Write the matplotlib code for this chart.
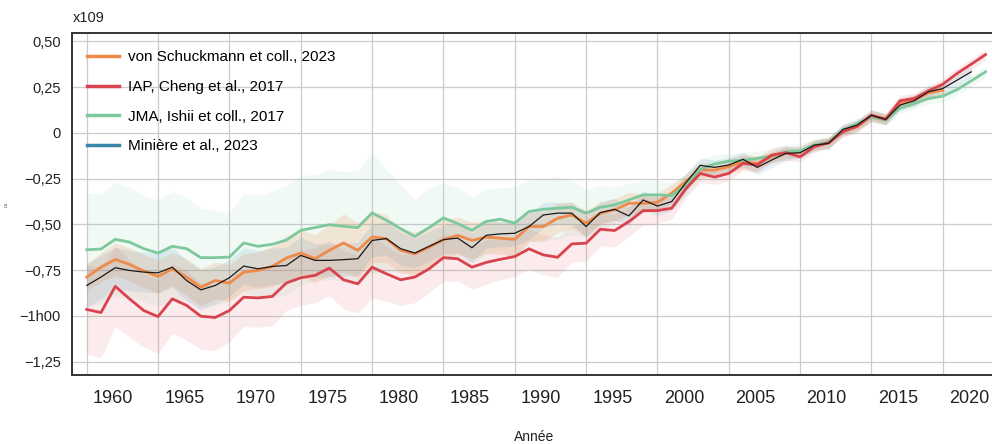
import numpy as np
import matplotlib
matplotlib.use('Agg')
import matplotlib.pyplot as plt
from matplotlib.lines import Line2D
from matplotlib.transforms import ScaledTranslation

plt.rcParams['font.family'] = ['Liberation Sans', 'DejaVu Sans']

# ocean heat content anomaly, x10^9
jma_years = list(range(1960, 2024))
jma = [-0.639, -0.635, -0.582, -0.597, -0.633, -0.657, -0.620, -0.633, -0.682, -0.682,
       -0.679, -0.602, -0.620, -0.609, -0.586, -0.533, -0.518, -0.502, -0.511, -0.518,
       -0.438, -0.478, -0.524, -0.566, -0.518, -0.465, -0.496, -0.533, -0.484, -0.472,
       -0.494, -0.430, -0.418, -0.412, -0.407, -0.439, -0.407, -0.394, -0.367, -0.339,
       -0.339, -0.343, -0.285, -0.200, -0.170, -0.155, -0.150, -0.140, -0.127, -0.104,
       -0.098, -0.067, -0.049, 0.015, 0.051, 0.085, 0.070, 0.135, 0.160, 0.187,
       0.200, 0.236, 0.284, 0.333]
jma_err = [0.31, 0.30, 0.31, 0.30, 0.29, 0.29, 0.30, 0.28, 0.27, 0.26,
           0.24, 0.27, 0.28, 0.29, 0.30, 0.30, 0.29, 0.30, 0.30, 0.31,
           0.33, 0.28, 0.24, 0.20, 0.22, 0.19, 0.20, 0.18, 0.18, 0.17,
           0.20, 0.17, 0.17, 0.17, 0.15, 0.13, 0.12, 0.10, 0.09, 0.08,
           0.08, 0.07, 0.06, 0.05, 0.05, 0.04, 0.04, 0.04, 0.04, 0.04,
           0.04, 0.03, 0.03, 0.03, 0.03, 0.03, 0.03, 0.03, 0.03, 0.03,
           0.03, 0.03, 0.03, 0.03]

iap_years = list(range(1960, 2024))
iap = [-0.965, -0.982, -0.839, -0.907, -0.971, -1.004, -0.907, -0.943, -1.002, -1.009,
       -0.971, -0.898, -0.902, -0.894, -0.820, -0.792, -0.779, -0.739, -0.803, -0.825,
       -0.734, -0.770, -0.803, -0.788, -0.743, -0.682, -0.688, -0.734, -0.708, -0.691,
       -0.676, -0.634, -0.667, -0.680, -0.607, -0.603, -0.527, -0.534, -0.485, -0.425,
       -0.425, -0.412, -0.305, -0.222, -0.242, -0.222, -0.167, -0.176, -0.122, -0.109,
       -0.131, -0.076, -0.055, 0.005, 0.036, 0.096, 0.073, 0.175, 0.187, 0.229,
       0.265, 0.324, 0.375, 0.427]
iap_err = [0.24, 0.25, 0.22, 0.21, 0.20, 0.20, 0.19, 0.19, 0.18, 0.18,
           0.17, 0.16, 0.16, 0.16, 0.15, 0.15, 0.15, 0.15, 0.16, 0.16,
           0.17, 0.15, 0.14, 0.14, 0.13, 0.13, 0.12, 0.12, 0.12, 0.11,
           0.11, 0.11, 0.11, 0.11, 0.10, 0.10, 0.09, 0.09, 0.08, 0.08,
           0.07, 0.06, 0.05, 0.05, 0.04, 0.04, 0.04, 0.04, 0.04, 0.04,
           0.03, 0.03, 0.03, 0.03, 0.03, 0.03, 0.03, 0.03, 0.03, 0.03,
           0.03, 0.03, 0.03, 0.03]

vs_years = list(range(1960, 2021))
vs = [-0.788, -0.734, -0.692, -0.719, -0.755, -0.785, -0.743, -0.788, -0.843, -0.807,
      -0.821, -0.761, -0.752, -0.730, -0.684, -0.657, -0.688, -0.642, -0.602, -0.642,
      -0.569, -0.578, -0.642, -0.661, -0.624, -0.584, -0.560, -0.588, -0.570, -0.576,
      -0.582, -0.512, -0.512, -0.467, -0.449, -0.494, -0.439, -0.421, -0.385, -0.385,
      -0.380, -0.330, -0.265, -0.204, -0.204, -0.185, -0.158, -0.167, -0.131, -0.109,
      -0.104, -0.067, -0.055, 0.011, 0.033, 0.091, 0.078, 0.160, 0.178, 0.218,
      0.233]
vs_err = [0.07, 0.08, 0.09, 0.09, 0.09, 0.09, 0.09, 0.10, 0.10, 0.10,
          0.10, 0.10, 0.10, 0.11, 0.12, 0.13, 0.13, 0.14, 0.16, 0.15,
          0.14, 0.13, 0.12, 0.12, 0.11, 0.11, 0.10, 0.10, 0.09, 0.09,
          0.09, 0.08, 0.08, 0.08, 0.07, 0.07, 0.06, 0.06, 0.06, 0.05,
          0.05, 0.05, 0.04, 0.04, 0.04, 0.04, 0.04, 0.04, 0.03, 0.03,
          0.03, 0.03, 0.03, 0.03, 0.03, 0.03, 0.03, 0.03, 0.03, 0.03,
          0.03]

mini_years = list(range(1960, 2023))
mini = [-0.834, -0.788, -0.737, -0.752, -0.761, -0.765, -0.734, -0.807, -0.858, -0.834,
        -0.792, -0.728, -0.743, -0.730, -0.725, -0.670, -0.697, -0.697, -0.693, -0.688,
        -0.588, -0.578, -0.633, -0.657, -0.620, -0.584, -0.575, -0.628, -0.560, -0.552,
        -0.549, -0.512, -0.449, -0.439, -0.439, -0.512, -0.436, -0.418, -0.454, -0.367,
        -0.400, -0.376, -0.272, -0.178, -0.189, -0.176, -0.145, -0.189, -0.149, -0.113,
        -0.109, -0.067, -0.058, 0.018, 0.042, 0.096, 0.073, 0.151, 0.175, 0.224,
        0.242, 0.287, 0.333]
mini_err = [0.12, 0.12, 0.11, 0.11, 0.11, 0.11, 0.11, 0.11, 0.11, 0.10,
            0.10, 0.10, 0.10, 0.10, 0.10, 0.10, 0.09, 0.09, 0.09, 0.09,
            0.09, 0.09, 0.09, 0.08, 0.08, 0.08, 0.08, 0.08, 0.07, 0.07,
            0.07, 0.07, 0.07, 0.06, 0.06, 0.06, 0.06, 0.06, 0.05, 0.05,
            0.05, 0.05, 0.05, 0.04, 0.04, 0.04, 0.04, 0.04, 0.04, 0.04,
            0.03, 0.03, 0.03, 0.03, 0.03, 0.03, 0.03, 0.03, 0.03, 0.03,
            0.03, 0.03, 0.03]

labels = ['von Schuckmann et coll., 2023', 'IAP, Cheng et al., 2017',
          'JMA, Ishii et coll., 2017', 'Minière et al., 2023']
yticks = [0.5, 0.25, 0, -0.25, -0.5, -0.75, -1.0, -1.25]
yticklabels = ['0,50', '0,25', '0', '\u22120,25', '\u22120,50', '\u22120,75',
               '\u22121h00', '\u22121,25']
xticks = list(range(1960, 2021, 5))

c_orange = '#f08a4b'
c_red = '#d9434d'
c_green = '#7dc89c'
c_blue = '#3b86aa'

fig = plt.figure(figsize=(9.92, 4.44), dpi=100)
ax = fig.add_axes([0.0726, 0.1554, 0.9274, 0.7703])


def band(years, vals, err, color, alpha):
    v = np.array(vals)
    e = np.array(err)
    ax.fill_between(years, v - e, v + e, color=color, alpha=alpha,
                    linewidth=0, zorder=1)


band(jma_years, jma, jma_err, c_green, 0.10)
band(iap_years, iap, iap_err, c_red, 0.10)
band(vs_years, vs, vs_err, c_orange, 0.18)
band(mini_years, mini, mini_err, c_blue, 0.12)

ax.plot(vs_years, vs, color=c_orange, lw=2.0, zorder=3)
ax.plot(jma_years, jma, color=c_green, lw=2.0, zorder=4)
ax.plot(iap_years, iap, color=c_red, lw=2.0, zorder=5)
ax.plot(mini_years, mini, color='#1a1a1a', lw=0.9, zorder=6)

ax.set_xlim(1958.97, 2023.45)
ax.set_ylim(-1.323, 0.545)
ax.set_xticks(xticks)
ax.set_xticklabels([str(y) for y in xticks])
ax.set_yticks(yticks)
ax.set_yticklabels(yticklabels)
ax.grid(True, color='#cccccc', lw=0.9)
ax.set_axisbelow(True)
ax.tick_params(axis='x', length=0, pad=11, labelsize=13, labelcolor='#222222')
ax.tick_params(axis='y', length=0, pad=8, labelsize=10.5, labelcolor='#222222')
# tick labels sit to the right of their gridlines in the reference
offset = ScaledTranslation(0.265, 0, fig.dpi_scale_trans)
for lab in ax.get_xticklabels():
    lab.set_transform(lab.get_transform() + offset)

for side in ['left', 'bottom', 'top']:
    ax.spines[side].set_color('#333333')
    ax.spines[side].set_linewidth(1.4)
ax.spines['right'].set_visible(False)

handles = [Line2D([], [], color=c, lw=2.5) for c in [c_orange, c_red, c_green, c_blue]]
ax.legend(handles, labels, loc='upper left', bbox_to_anchor=(0.01, 0.967),
          frameon=False, fontsize=11, handlelength=2.1, handletextpad=0.55,
          labelspacing=1.02, borderaxespad=0)

fig.text(0.0736, 1 - 18 / 444, 'x109', fontsize=10.5, va='center', color='#222222')
fig.text(534 / 992, 1 - 437 / 444, 'Année', fontsize=10, ha='center',
         va='center', color='#222222')
fig.text(6 / 992, 1 - 205 / 444, 'ш', fontsize=4, rotation=90, ha='center',
         va='center', color='#666666')

fig.savefig('out.png', dpi=100)
